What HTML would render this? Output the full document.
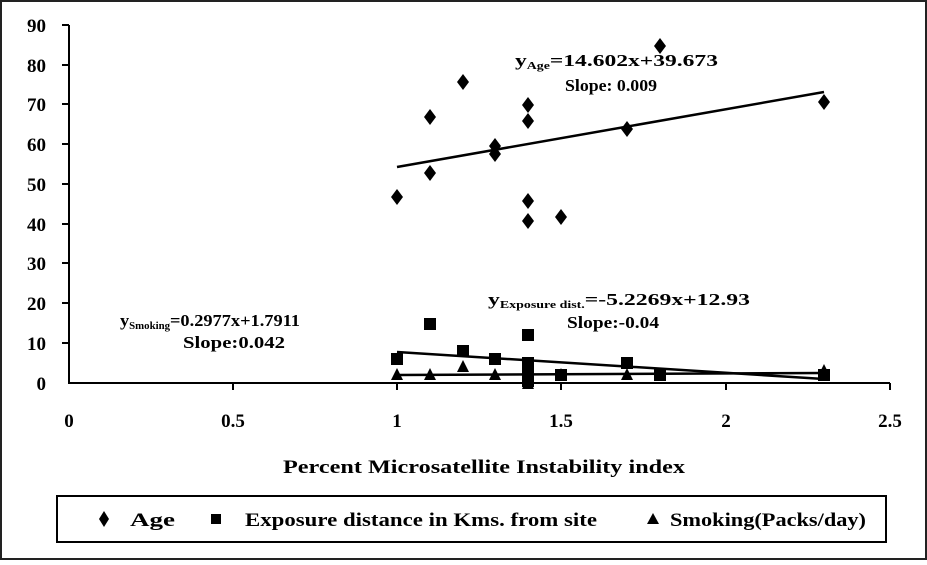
<!DOCTYPE html>
<html><head><style>
body{margin:0;background:#fff}
svg text{font-family:"Liberation Serif",serif;font-weight:bold;fill:#000}
</style></head><body>
<svg width="927" height="560" viewBox="0 0 927 560" xmlns="http://www.w3.org/2000/svg">
<rect x="1" y="1" width="925" height="558" fill="#fff" stroke="#222" stroke-width="2"/>
<g stroke="#000" stroke-width="2">
<line x1="69" y1="25" x2="69" y2="384"/>
<line x1="69" y1="383" x2="890" y2="383"/>
<line x1="62" y1="25" x2="69" y2="25"/><line x1="62" y1="65" x2="69" y2="65"/><line x1="62" y1="104" x2="69" y2="104"/><line x1="62" y1="144" x2="69" y2="144"/><line x1="62" y1="184" x2="69" y2="184"/><line x1="62" y1="224" x2="69" y2="224"/><line x1="62" y1="263" x2="69" y2="263"/><line x1="62" y1="303" x2="69" y2="303"/><line x1="62" y1="343" x2="69" y2="343"/>
<line x1="233" y1="383" x2="233" y2="390"/><line x1="397" y1="383" x2="397" y2="390"/><line x1="561" y1="383" x2="561" y2="390"/><line x1="726" y1="383" x2="726" y2="390"/><line x1="890" y1="383" x2="890" y2="390"/>
</g>
<g font-size="19" text-anchor="end">
<text x="46" y="32">90</text><text x="46" y="72">80</text><text x="46" y="111">70</text><text x="46" y="151">60</text><text x="46" y="191">50</text><text x="46" y="231">40</text><text x="46" y="270">30</text><text x="46" y="310">20</text><text x="46" y="350">10</text><text x="46" y="390">0</text>
</g>
<g font-size="19" text-anchor="middle">
<text x="69" y="427">0</text><text x="233" y="427">0.5</text><text x="397" y="427">1</text><text x="561" y="427">1.5</text><text x="726" y="427">2</text><text x="890" y="427">2.5</text>
</g>
<text x="283" y="473" font-size="19" textLength="402" lengthAdjust="spacingAndGlyphs">Percent Microsatellite Instability index</text>
<g stroke="#000" stroke-width="2.5">
<line x1="397" y1="167" x2="824" y2="92"/>
<line x1="397" y1="352" x2="824" y2="379"/>
<line x1="397" y1="375" x2="824" y2="373"/>
</g>
<g fill="#000">
<path d="M397,189l6,8-6,8-6-8z"/><path d="M430,109l6,8-6,8-6-8z"/><path d="M430,165l6,8-6,8-6-8z"/><path d="M463,74l6,8-6,8-6-8z"/><path d="M495,138l6,8-6,8-6-8z"/><path d="M495,146l6,8-6,8-6-8z"/><path d="M528,97l6,8-6,8-6-8z"/><path d="M528,113l6,8-6,8-6-8z"/><path d="M528,193l6,8-6,8-6-8z"/><path d="M528,213l6,8-6,8-6-8z"/><path d="M561,209l6,8-6,8-6-8z"/><path d="M627,121l6,8-6,8-6-8z"/><path d="M660,38l6,8-6,8-6-8z"/><path d="M824,94l6,8-6,8-6-8z"/>
</g>
<g fill="#000">
<rect x="391" y="353" width="12" height="12"/><rect x="424" y="318" width="12" height="12"/><rect x="457" y="345" width="12" height="12"/><rect x="489" y="353" width="12" height="12"/><rect x="522" y="329" width="12" height="12"/><rect x="522" y="357" width="12" height="12"/><rect x="522" y="369" width="12" height="12"/><rect x="522" y="375" width="12" height="12"/><rect x="555" y="369" width="12" height="12"/><rect x="621" y="357" width="12" height="12"/><rect x="654" y="369" width="12" height="12"/><rect x="818" y="369" width="12" height="12"/>
</g>
<g fill="#000">
<path d="M397,368l6,12h-12z"/><path d="M430,368l6,12h-12z"/><path d="M463,360l6,12h-12z"/><path d="M495,368l6,12h-12z"/><path d="M528,368l6,12h-12z"/><path d="M528,377l6,12h-12z"/><path d="M561,368l6,12h-12z"/><path d="M627,368l6,12h-12z"/><path d="M824,364l6,12h-12z"/>
</g>
<g font-size="17">
<text x="515" y="66" textLength="203" lengthAdjust="spacingAndGlyphs">y<tspan font-size="10" dy="3">Age</tspan><tspan dy="-3">=14.602x+39.673</tspan></text>
<text x="565" y="91" textLength="92" lengthAdjust="spacingAndGlyphs">Slope: 0.009</text>
<text x="488" y="305" textLength="262" lengthAdjust="spacingAndGlyphs">y<tspan font-size="10" dy="3">Exposure dist.</tspan><tspan dy="-3">=-5.2269x+12.93</tspan></text>
<text x="567" y="328" textLength="92" lengthAdjust="spacingAndGlyphs">Slope:-0.04</text>
<text x="120" y="326" textLength="180" lengthAdjust="spacingAndGlyphs">y<tspan font-size="10" dy="3">Smoking</tspan><tspan dy="-3">=0.2977x+1.7911</tspan></text>
<text x="183" y="348" textLength="102" lengthAdjust="spacingAndGlyphs">Slope:0.042</text>
</g>
<rect x="57" y="496" width="829" height="46" fill="#fff" stroke="#000" stroke-width="2"/>
<path d="M104,511l5,8-5,8-5-8z" fill="#000"/>
<text x="130" y="526" font-size="19" textLength="45" lengthAdjust="spacingAndGlyphs">Age</text>
<rect x="211" y="514" width="10" height="10" fill="#000"/>
<text x="245" y="526" font-size="19" textLength="352" lengthAdjust="spacingAndGlyphs">Exposure distance in Kms. from site</text>
<path d="M653,513l6,11h-12z" fill="#000"/>
<text x="670" y="526" font-size="19" textLength="196" lengthAdjust="spacingAndGlyphs">Smoking(Packs/day)</text>
</svg>
</body></html>
